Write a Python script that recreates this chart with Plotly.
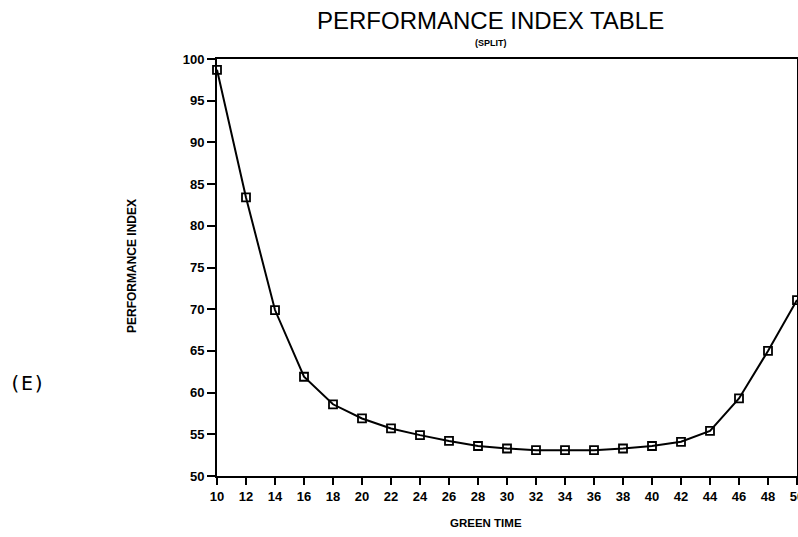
import plotly.graph_objects as go

green_time = [10, 12, 14, 16, 18, 20, 22, 24, 26, 28, 30, 32, 34, 36, 38, 40, 42, 44, 46, 48, 50]
perf_index = [98.7, 83.4, 69.9, 61.9, 58.6, 56.9, 55.7, 54.9, 54.2, 53.6, 53.3, 53.1, 53.1, 53.1,
              53.3, 53.6, 54.1, 55.4, 59.3, 65.0, 71.1]
x_ticks = list(range(10, 51, 2))
y_ticks = list(range(50, 101, 5))

fig = go.Figure()
fig.add_trace(go.Scatter(
    x=green_time, y=perf_index, mode="lines+markers",
    line=dict(color="black", width=2),
    marker=dict(symbol="square-open", size=8, color="black", line=dict(width=1.8)),
    cliponaxis=False, showlegend=False,
))

tick_font = dict(family="Liberation Sans", size=13, color="black", weight="bold")
fig.update_layout(
    width=798, height=537,
    margin=dict(l=217, r=1, t=59, b=61),
    paper_bgcolor="white", plot_bgcolor="white",
    xaxis=dict(range=[10, 50], tickvals=x_ticks, ticks="outside", ticklen=7, tickwidth=2,
               tickcolor="black", showline=True, linecolor="black", linewidth=2, mirror=True,
               showgrid=False, zeroline=False, tickfont=tick_font, automargin=False,
               ticklabeloverflow="allow"),
    yaxis=dict(range=[50, 100], tickvals=y_ticks, ticks="outside", ticklen=8, tickwidth=2,
               tickcolor="black", showline=True, linecolor="black", linewidth=2, mirror=True,
               showgrid=False, zeroline=False, tickfont=tick_font, automargin=False,
               ticklabeloverflow="allow"),
    annotations=[
        dict(text="PERFORMANCE INDEX TABLE", x=0.4707, y=1.0935, xref="paper", yref="paper",
             xanchor="center", yanchor="middle", showarrow=False,
             font=dict(family="Liberation Sans", size=24, color="black")),
        dict(text="(SPLIT)", x=0.472, y=1.038, xref="paper", yref="paper", showarrow=False,
             xanchor="center", yanchor="middle",
             font=dict(family="Liberation Sans", size=9, color="black", weight="bold")),
        dict(text="(E)", x=-0.327, y=0.223, xref="paper", yref="paper", showarrow=False,
             xanchor="center", yanchor="middle",
             font=dict(family="DejaVu Sans Mono", size=20, color="black")),
        dict(text="PERFORMANCE INDEX", x=-0.1466, y=0.5036, xref="paper", yref="paper",
             showarrow=False, textangle=-90, xanchor="center", yanchor="middle",
             font=dict(family="Liberation Sans", size=12, color="black", weight="bold")),
        dict(text="GREEN TIME", x=0.4638, y=-0.1127, xref="paper", yref="paper", showarrow=False,
             xanchor="center", yanchor="middle",
             font=dict(family="Liberation Sans", size=11.5, color="black", weight="bold")),
    ],
)

fig.write_html("out.html")
